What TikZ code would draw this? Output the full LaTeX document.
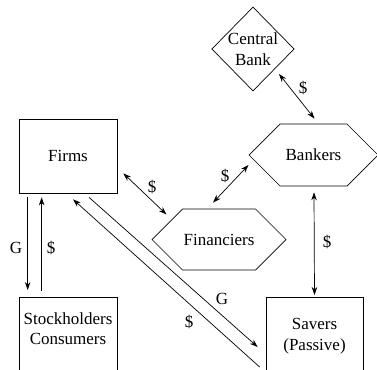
\documentclass[tikz,border=0pt]{standalone}
\usepackage{fontspec}
\setmainfont{Liberation Serif}
\usetikzlibrary{arrows.meta,shapes.geometric,shapes.symbols,calc}
\tikzset{
  box/.style={draw, minimum width=98pt, minimum height=74pt, inner sep=0pt, align=center},
  hexa/.style={draw, signal, signal to=east and west, signal pointer angle=90, inner sep=0pt},
  flow/.style={<->},
}
\begin{document}
\begin{tikzpicture}[x=1pt,y=-1pt,line width=0.7pt,>={Stealth[length=8pt,width=5.5pt]},
  font=\fontsize{17}{20.5}\selectfont]
\clip (0,0) rectangle (377,369);
\node[draw, diamond, aspect=1, minimum width=82pt, minimum height=84pt, inner sep=0pt, align=center] (cb) at (253,49) {Central\\Bank};
\node[box] (firms) at (68,156) {Firms};
\node[hexa, minimum width=129pt, minimum height=62pt] (bank) at (313.5,155) {Bankers};
\node[hexa, minimum width=134pt, minimum height=61pt] (fin) at (219,239.5) {Financiers};
\node[box, anchor=north, minimum height=0pt, inner ysep=15pt, text depth=60pt] (stock) at (68,297) {Stockholders\\Consumers};
\node[box, anchor=north, minimum width=97pt, minimum height=0pt, inner ysep=21pt, text depth=60pt] (sav) at (314.5,297) {Savers\\(Passive)};
% money and goods
\draw[flow] ($(cb.center)+(26,25)$) -- ($(bank.north)+(1,-5)$);
\draw[flow] ($(firms.south east)+(6,-20)$) -- ($(fin.west)+(15,-25)$);
\draw[flow] ($(fin.north)+(-6,-6)$) -- ($(bank.west)+(0,10)$);
\draw[flow] ($(bank.south)+(0.5,6)$) -- ($(sav.north)+(0,-2)$);
\draw[->] ($(firms.south west)+(9,4)$) -- ($(stock.north west)+(9,-7)$);
\draw[->] ($(stock.north west)+(23,-6)$) -- ($(firms.south west)+(23,4)$);
\draw[->] ($(firms.south)+(21,4)$) -- ($(sav.north west)+(-8,50)$);
\draw[->] ($(sav.north west)+(-6,70)$) -- ($(firms.south)+(5,6)$);
\node (l1) at (303,88) {\$};
\node (l2) at (152,187) {\$};
\node (l3) at (225,176) {\$};
\node (l4) at (327,242) {\$};
\node (l5) at (16,248) {G};
\node (l6) at (51,248) {\$};
\node (l7) at (222,299) {G};
\node (l8) at (189,322) {\$};
\end{tikzpicture}
\end{document}
